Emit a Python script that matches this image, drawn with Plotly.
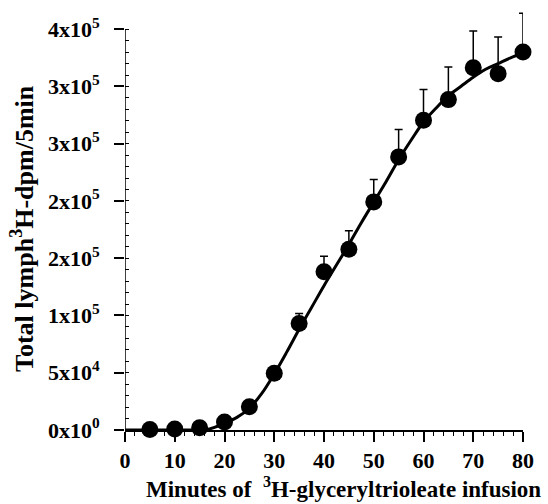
import plotly.graph_objects as go

# Data
minutes = [5, 10, 15, 20, 25, 30, 35, 40, 45, 50, 55, 60, 65, 70, 75, 80]
dpm = [500, 800, 2000, 7000, 20300, 49500, 93100, 138100, 157900, 199200,
       238500, 270500, 288500, 316400, 311200, 330100]
sem_upper = [200, 300, 500, 1000, 2000, 3000, 8700, 13700, 16000, 19600,
             23900, 26800, 28500, 32000, 32000, 33800]

fit_minutes = [0, 5, 10, 15, 17, 20, 22.5, 25, 27.5, 30, 32.5, 35, 37.5, 40,
               42.5, 45, 47.5, 50, 52.5, 55, 57.5, 60, 62.5, 65, 67.5, 70,
               72.5, 75, 77.5, 80]
fit_dpm = [0, 0, 0, 300, 1000, 5800, 11000, 19000, 32000, 49000, 68000, 88000,
           107000, 126000, 144000, 162000, 181000, 199000, 217000, 236000,
           253000, 269000, 281000, 292000, 300000, 308000, 315000, 320000,
           325000, 329000]

y_tickvals = [0, 50000, 100000, 150000, 200000, 250000, 300000, 350000]
y_ticktext = ["0x10<sup>0</sup>", "5x10<sup>4</sup>", "1x10<sup>5</sup>",
              "2x10<sup>5</sup>", "2x10<sup>5</sup>", "3x10<sup>5</sup>",
              "3x10<sup>5</sup>", "4x10<sup>5</sup>"]
x_tickvals = [0, 10, 20, 30, 40, 50, 60, 70, 80]
x_ticktext = ["0", "10", "20", "30", "40", "50", "60", "70", "80"]
y_minor = list(range(0, 350001, 10000))
x_minor = list(range(0, 81, 2))

x_title = "Minutes of  <sup>3</sup>H-glyceryltrioleate infusion"
y_title = "Total lymph<sup>3</sup>H-dpm/5min"

FONT = "Liberation Serif"

fig = go.Figure()
fig.add_trace(go.Scatter(
    x=fit_minutes, y=fit_dpm, mode="lines",
    line=dict(color="black", width=3, shape="spline"),
    cliponaxis=False, hoverinfo="skip", showlegend=False))
fig.add_trace(go.Scatter(
    x=minutes, y=dpm, mode="markers",
    marker=dict(color="black", size=17),
    error_y=dict(type="data", symmetric=False, array=sem_upper,
                 arrayminus=[0] * len(sem_upper), color="black",
                 thickness=1.5, width=4),
    cliponaxis=False, showlegend=False))

# y axis line only up to the top tick
fig.add_shape(type="line", xref="x", yref="y", x0=0, x1=0, y0=0,
              y1=y_tickvals[-1], line=dict(color="black", width=1.5))

fig.add_annotation(text="<b>" + y_title + "</b>", xref="paper", yref="paper",
                   x=-0.259, y=0.474, xanchor="center", yanchor="middle",
                   textangle=-90, showarrow=False,
                   font=dict(family=FONT, size=26, color="black"))
fig.add_annotation(text="<b>" + x_title + "</b>", xref="paper", yref="paper",
                   x=0.548, y=-0.136, xanchor="center", yanchor="middle",
                   showarrow=False,
                   font=dict(family=FONT, size=23, color="black"))

fig.update_layout(
    width=548, height=504,
    margin=dict(l=125, r=25, t=4, b=74),
    paper_bgcolor="white", plot_bgcolor="white",
    font=dict(family=FONT, color="black"),
    xaxis=dict(
        range=[0, 80], showgrid=False, zeroline=False,
        showline=True, linecolor="black", linewidth=1.5,
        tickvals=x_tickvals, ticktext=["<b>" + t + "</b>" for t in x_ticktext],
        ticks="outside", ticklen=10, tickwidth=1.5, tickcolor="black",
        ticklabelstandoff=0,
        tickfont=dict(family=FONT, size=22, color="black"),
        minor=dict(tickvals=x_minor, ticks="outside", ticklen=4,
                   tickwidth=1, tickcolor="black"),
    ),
    yaxis=dict(
        range=[0, 372000], showgrid=False, zeroline=False, showline=False,
        tickvals=y_tickvals, ticktext=["<b>" + t + "</b>" for t in y_ticktext],
        ticks="outside", ticklen=10, tickwidth=1.5, tickcolor="black",
        ticklabelstandoff=10,
        tickfont=dict(family=FONT, size=22, color="black"),
        minor=dict(tickvals=y_minor, ticks="inside", ticklen=4,
                   tickwidth=1, tickcolor="black"),
    ),
)

fig.write_html("out.html", config={"displayModeBar": False},
               post_script="document.body.style.margin='0px';")
